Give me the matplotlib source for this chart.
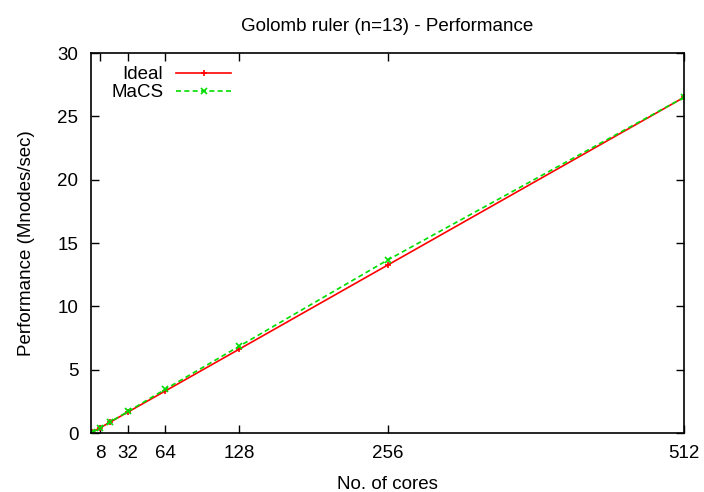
import matplotlib
matplotlib.use("Agg")
import matplotlib.pyplot as plt

plt.rcParams['font.family'] = ['Liberation Sans', 'DejaVu Sans']

cores = [1, 8, 16, 32, 64, 128, 256, 512]
ideal = [0.052, 0.414, 0.83, 1.66, 3.31, 6.62, 13.25, 26.5]
macs = [0.053, 0.42, 0.85, 1.70, 3.45, 6.85, 13.65, 26.5]
xticks = [8, 32, 64, 128, 256, 512]

fig = plt.figure(figsize=(7.04, 4.92), dpi=100)
ax = fig.add_axes([91 / 704, 59 / 492, 593 / 704, 380 / 492])

ax.plot(cores, ideal, color='#ff0000', lw=1.2, marker='+', ms=5, mew=1.2, label='Ideal')
ax.plot(cores, macs, color='#00dd00', lw=1.2, ls=(0, (3, 2)), marker='x', ms=4, mew=1.2, label='MaCS')

ax.set_xlim(0, 512)
ax.set_ylim(0, 30)
ax.set_xticks(xticks)
ax.set_yticks(range(0, 31, 5))
ax.tick_params(direction='in', top=True, right=True, labelsize=13.5, length=6, width=1, pad=9)
for s in ax.spines.values():
    s.set_linewidth(1.2)

ax.set_title('Golomb ruler (n=13) - Performance', fontsize=13.5, pad=16)
ax.set_xlabel('No. of cores', fontsize=13.5, labelpad=10)
ax.set_ylabel('Performance (Mnodes/sec)', fontsize=13.5, labelpad=16)

# gnuplot-style key: label first, sample after
ax.legend(loc='upper left', bbox_to_anchor=(0.012, 1.0), frameon=False, markerfirst=False,
          fontsize=13.5, handlelength=2.9, borderaxespad=0.3, labelspacing=0.05, handletextpad=0.7)

fig.savefig('out.png', dpi=100)
